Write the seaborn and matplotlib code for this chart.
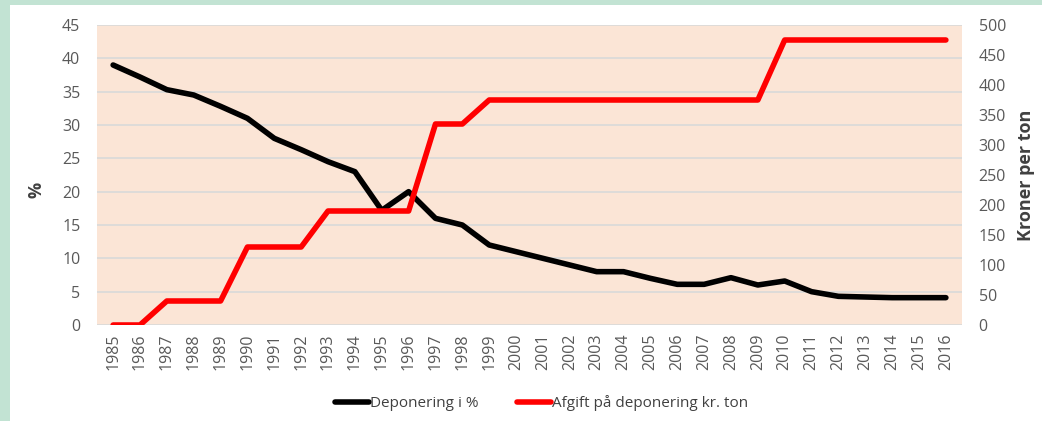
import pandas as pd
import matplotlib.pyplot as plt
import matplotlib.patches as mpatches
import seaborn as sns

# Data
years = list(range(1985, 2017))
deponering = [39, 37.2, 35.3, 34.5, 32.8, 31, 28, 26.3, 24.5, 23,
              17.2, 20, 16, 15, 12, 11, 10, 9, 8, 8,
              7, 6.1, 6.1, 7.1, 6, 6.6, 5, 4.3, 4.2, 4.1,
              4.1, 4.1]
afgift = [0, 0, 40, 40, 40, 130, 130, 130, 190, 190,
          190, 190, 335, 335, 375, 375, 375, 375, 375, 375,
          375, 375, 375, 375, 375, 475, 475, 475, 475, 475,
          475, 475]

df = pd.DataFrame({"year": years, "dep": deponering, "afg": afgift})
df["pos"] = range(len(years))

sns.set_style("white")
plt.rcParams['font.family'] = ['Open Sans', 'DejaVu Sans']

fig = plt.figure(figsize=(10.42, 4.21), dpi=100)
fig.patch.set_facecolor("#C2E3D3")
# white card behind the chart
fig.patches.append(mpatches.Rectangle((10 / 1042, 0), 1, 1 - 5 / 421,
                                      transform=fig.transFigure,
                                      facecolor="white", edgecolor="none",
                                      zorder=-5))

ax = fig.add_axes([97 / 1042, 1 - 325 / 421, 865 / 1042, 300 / 421])
ax.set_facecolor("#FBE5D6")
ax2 = ax.twinx()

sns.lineplot(data=df, x="pos", y="dep", ax=ax, color="black", linewidth=4,
             label="Deponering i %", legend=False)
sns.lineplot(data=df, x="pos", y="afg", ax=ax2, color="#FF0000", linewidth=4,
             label="Afgift på deponering kr. ton", legend=False)

ax.set_ylim(0, 45)
ax.set_yticks(range(0, 46, 5))
ax2.set_ylim(0, 500)
ax2.set_yticks(range(0, 501, 50))
ax.set_xlim(-0.6, len(years) - 0.4)
ax.set_xticks(df["pos"])
ax.set_xticklabels([str(y) for y in years], rotation=90)

ax.grid(axis="y", color="#D9D9D9", linewidth=1.2)
ax.set_axisbelow(True)
for a in (ax, ax2):
    for s in a.spines.values():
        s.set_visible(False)
    a.tick_params(length=0, labelsize=11.5, colors="#595959")
ax.tick_params(axis="x", labelsize=11.5, pad=6)
ax.tick_params(axis="y", pad=12)
ax2.tick_params(axis="y", pad=12)

ax.set_xlabel("")
ax.set_ylabel("%", fontsize=13, fontweight="bold", color="#404040")
ax.yaxis.set_label_coords(-0.06, 0.45)
ax2.set_ylabel("Kroner per ton", fontsize=13, fontweight="bold", color="#404040",
               labelpad=8)

h1, l1 = ax.get_legend_handles_labels()
h2, l2 = ax2.get_legend_handles_labels()
fig.legend(h1 + h2, l1 + l2, loc="center", bbox_to_anchor=(0.52, 1 - 403 / 421),
           ncol=2, frameon=False, fontsize=11, handlelength=2.2,
           handletextpad=0.1, columnspacing=2.5, labelcolor="#404040")

fig.savefig("out.png", dpi=100, facecolor=fig.get_facecolor())
